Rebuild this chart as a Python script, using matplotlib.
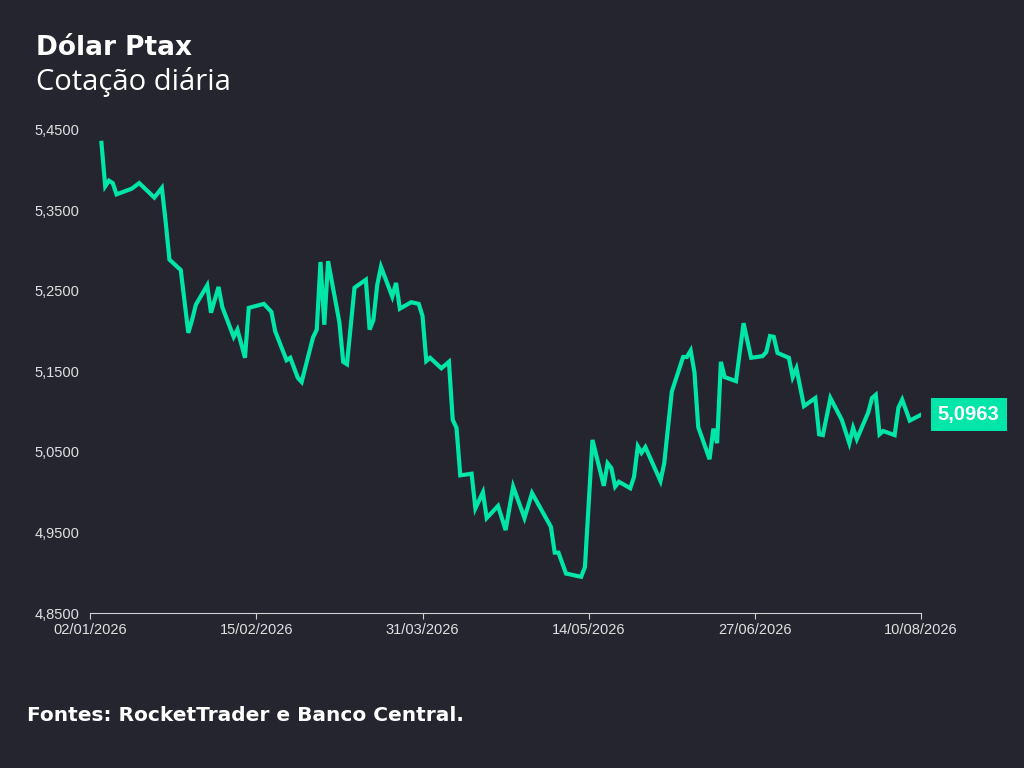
import matplotlib
matplotlib.use("Agg")
import matplotlib.pyplot as plt
import numpy as np
import datetime as dt

start = dt.date(2026, 1, 2)
day_offsets = [3,4,5,6,7,11,13,17,19,20,21,24,26,27,28,31,32,34,35,38,39,41,42,46,48,49,52,53,55,56,
               59,60,61,62,63,66,67,68,70,73,74,75,76,77,80,81,82,85,87,88,89,90,93,95,96,97,98,101,102,104,
               105,108,110,112,115,117,122,123,124,126,130,131,133,136,137,138,139,140,143,144,145,146,147,151,152,154,157,158,159,160,
               161,164,165,166,167,168,171,173,175,178,179,180,181,182,185,186,187,189,192,193,194,196,199,201,202,203,206,207,208,209,
               210,213,214,215,217,220]
values = [5.434,5.380,5.387,5.384,5.370,5.377,5.384,5.366,5.378,5.336,5.289,5.276,5.198,5.214,5.233,5.257,5.223,5.255,5.230,5.193,
          5.202,5.167,5.229,5.234,5.224,5.200,5.164,5.167,5.142,5.137,5.192,5.202,5.286,5.208,5.287,5.211,5.162,5.159,5.254,5.264,
          5.202,5.214,5.257,5.280,5.243,5.260,5.228,5.236,5.234,5.219,5.163,5.167,5.154,5.162,5.090,5.080,5.021,5.023,4.980,5.000,
          4.968,4.983,4.953,5.007,4.968,4.999,4.957,4.925,4.925,4.899,4.895,4.907,5.065,5.008,5.036,5.030,5.007,5.013,5.005,5.019,
          5.057,5.049,5.056,5.014,5.036,5.125,5.168,5.168,5.176,5.149,5.081,5.041,5.079,5.061,5.162,5.143,5.138,5.210,5.167,5.169,
          5.174,5.194,5.193,5.173,5.167,5.143,5.154,5.107,5.117,5.072,5.071,5.117,5.090,5.061,5.080,5.066,5.099,5.117,5.121,5.072,
          5.076,5.071,5.105,5.115,5.089,5.0963]
tick_dates = ["02/01/2026","15/02/2026","31/03/2026","14/05/2026","27/06/2026","10/08/2026"]
y_ticks = [4.85,4.95,5.05,5.15,5.25,5.35,5.45]

dates = [start + dt.timedelta(days=d) for d in day_offsets]
bg = "#24252f"
green = "#00e5a8"
tf = "Liberation Sans"

fig = plt.figure(figsize=(10.24, 7.68), dpi=100, facecolor=bg)
ax = fig.add_axes([0.088, 0.2018, 0.8115, 0.629], facecolor=bg)
ax.plot(dates, values, color=green, lw=3.0, solid_joinstyle="miter")
ax.set_xlim(start, start + dt.timedelta(days=220))
ax.set_ylim(4.85, 5.45)
tds = [dt.datetime.strptime(t, "%d/%m/%Y").date() for t in tick_dates]
ax.set_xticks(tds)
ax.set_xticklabels(tick_dates, family=tf)
ax.set_yticks(y_ticks)
ax.set_yticklabels([f"{v:.4f}".replace(".", ",") for v in y_ticks], family=tf)
for s in ["top", "right", "left"]:
    ax.spines[s].set_visible(False)
ax.spines["bottom"].set_color("#d0d0d0")
ax.tick_params(axis="x", colors="#d0d0d0", labelsize=10.5, length=4, labelcolor="#e0e0e0")
ax.tick_params(axis="y", length=0, labelsize=10.5, labelcolor="#e0e0e0", pad=-2)
for lab in ax.get_yticklabels():
    lab.set_horizontalalignment("left")
    lab.set_x(-0.07)
ax.text(1.02, values[-1], f"{values[-1]:.4f}".replace(".", ","), transform=ax.get_yaxis_transform(),
        color="white", fontsize=14.5, fontweight="bold", family=tf, va="center", ha="left",
        bbox=dict(boxstyle="square,pad=0.35", fc=green, ec="none"))

fig.text(0.035, 0.938, "Dólar Ptax", color="white", fontsize=19, fontweight="bold", va="center")
fig.text(0.035, 0.893, "Cotação diária", color="white", fontsize=21, family="Open Sans", va="center")
fig.text(0.026, 0.068, "Fontes: RocketTrader e Banco Central.", color="white", fontsize=14.5, fontweight="bold", va="center")
fig.savefig("out.png", dpi=100, facecolor=bg)
